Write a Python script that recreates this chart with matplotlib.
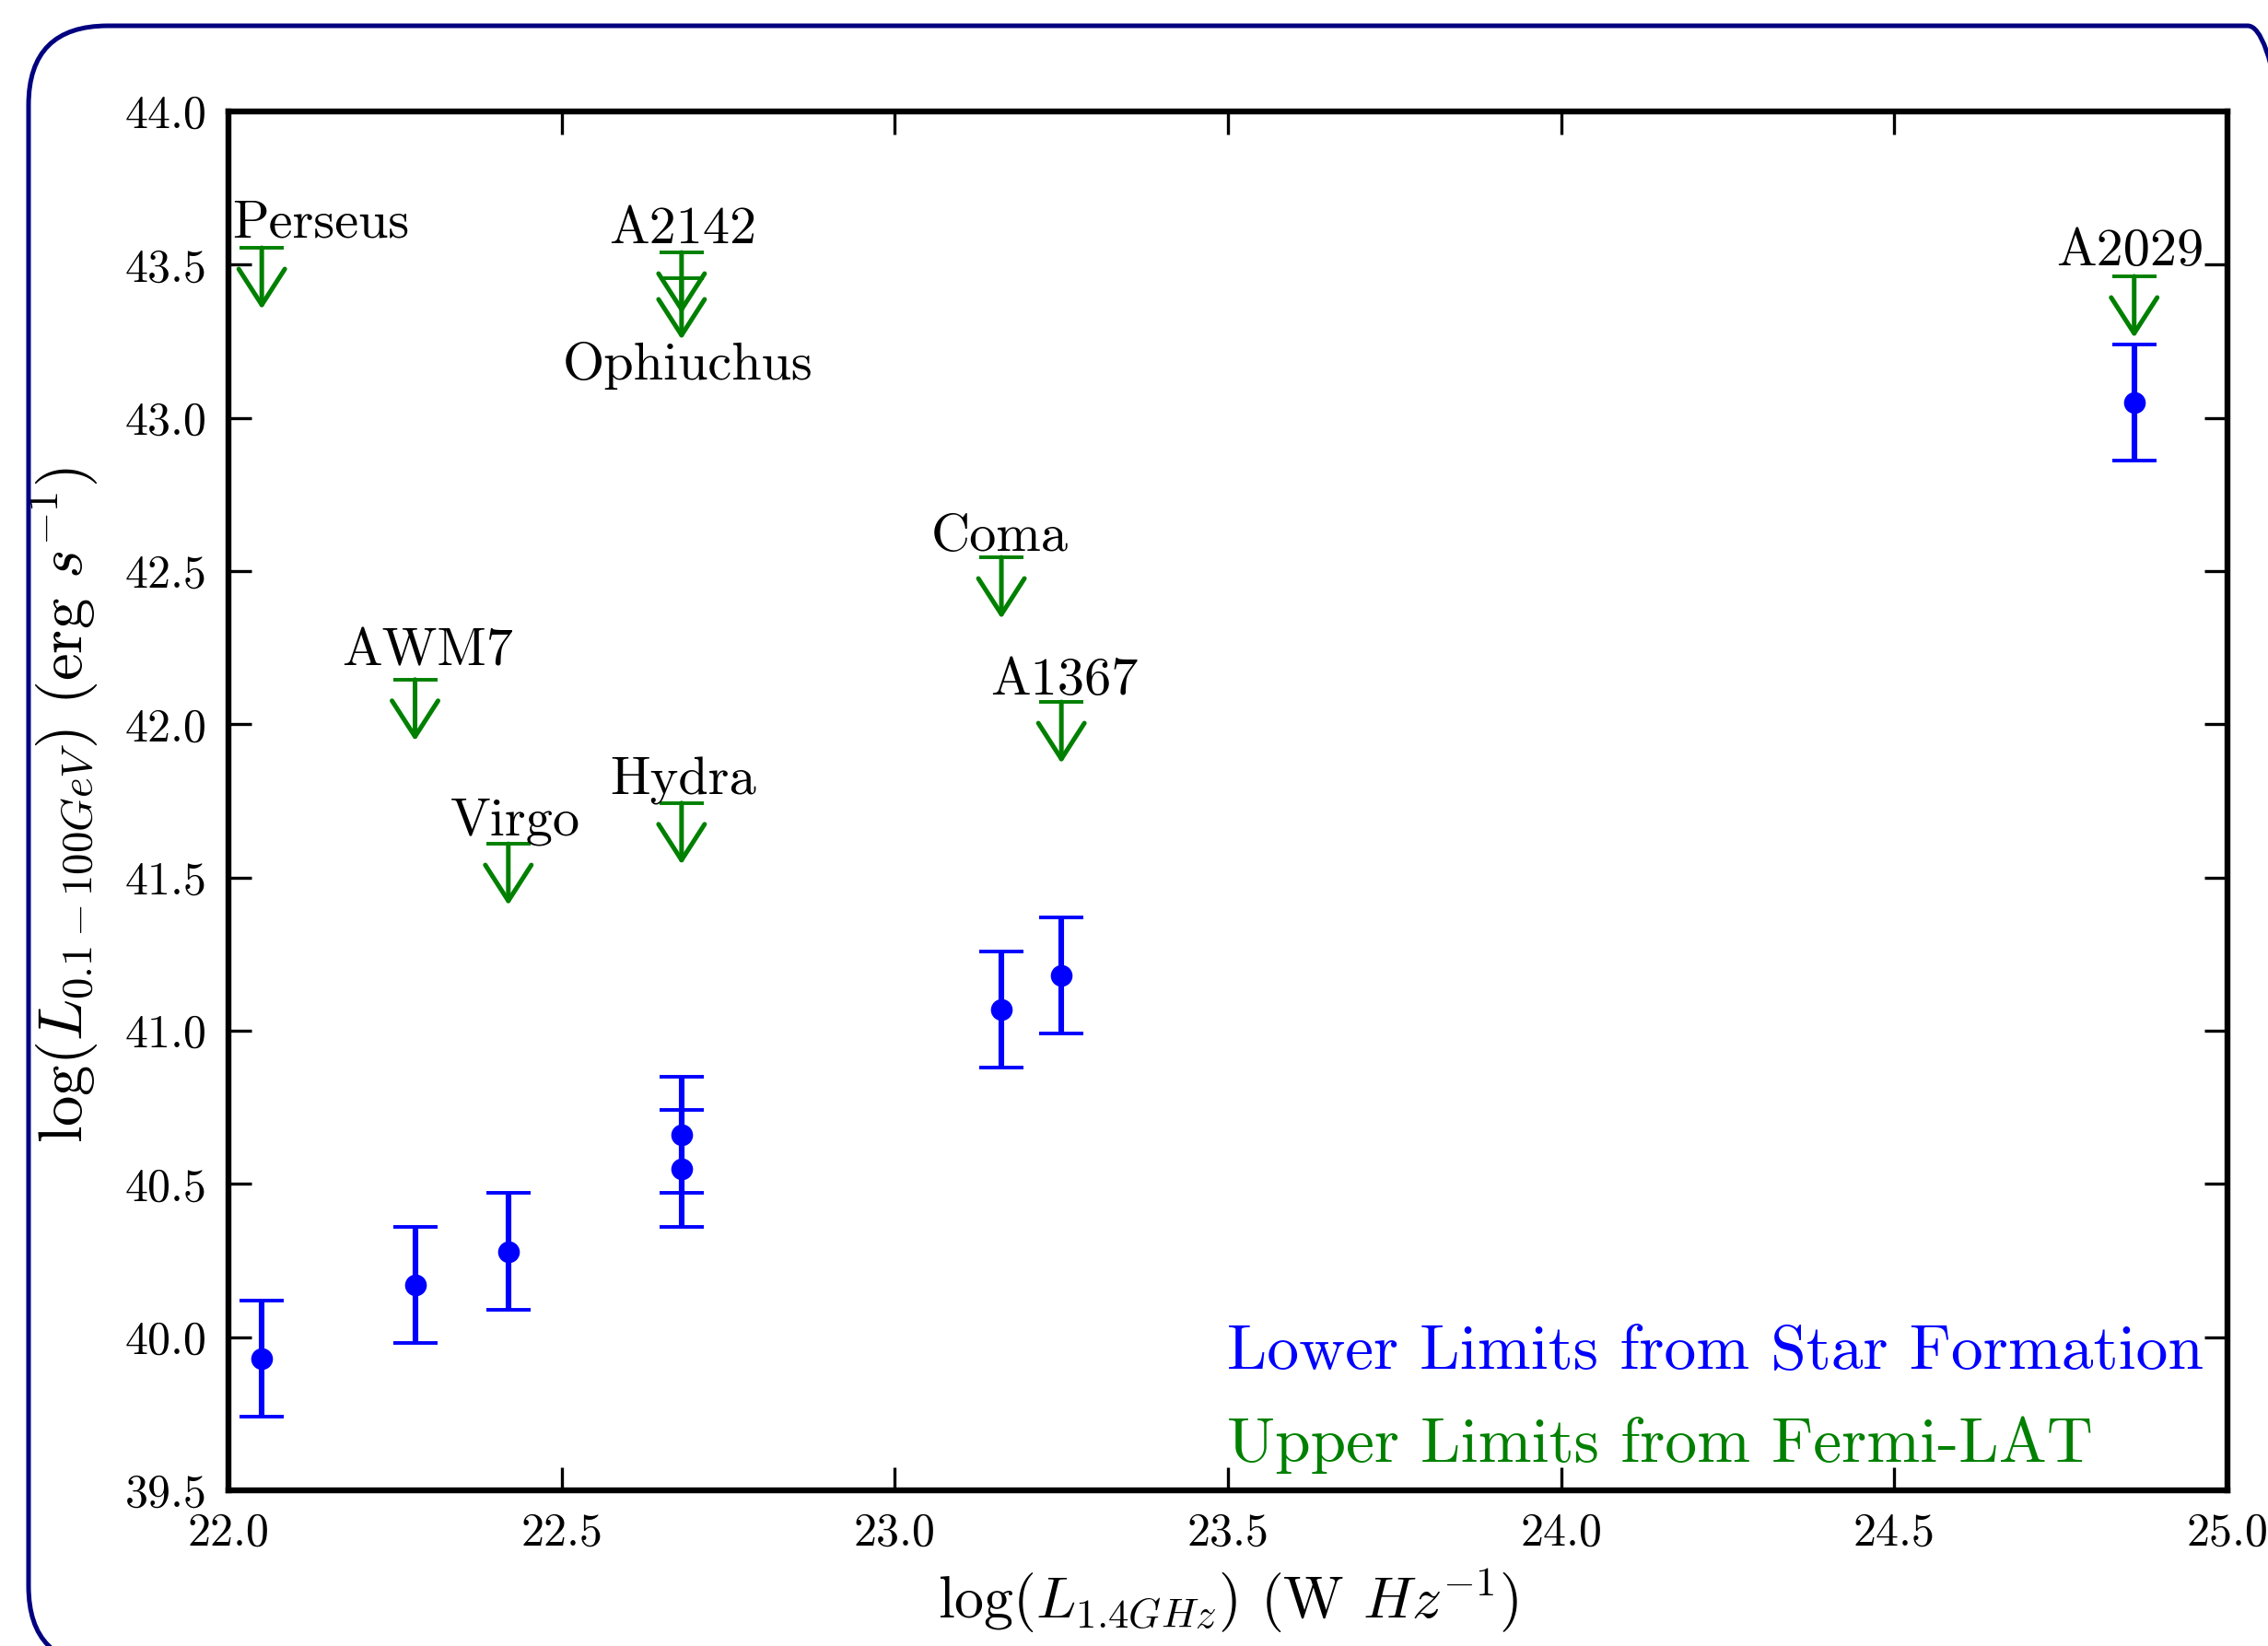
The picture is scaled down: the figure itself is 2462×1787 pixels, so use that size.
import matplotlib
matplotlib.use("Agg")
import matplotlib.pyplot as plt
from matplotlib.patches import FancyBboxPatch
from matplotlib.transforms import IdentityTransform

plt.rcParams['font.family'] = 'serif'
plt.rcParams['font.serif'] = ['cmr10', 'DejaVu Serif']
plt.rcParams['mathtext.fontset'] = 'cm'
plt.rcParams['axes.unicode_minus'] = False
plt.rcParams['axes.formatter.use_mathtext'] = True

# ---- data: lower limits from star formation (blue) ----
sf_x = [22.05, 22.28, 22.42, 22.68, 22.68, 23.16, 23.25, 24.86]
sf_y = [39.93, 40.17, 40.28, 40.66, 40.55, 41.07, 41.18, 43.05]
sf_err = [0.19, 0.19, 0.19, 0.19, 0.19, 0.19, 0.19, 0.19]

# ---- data: upper limits from Fermi-LAT (green) ----
ul_names = ['Perseus', 'A2142', 'Ophiuchus', 'AWM7', 'Virgo', 'Hydra',
            'Coma', 'A1367', 'A2029']
ul_x = [22.05, 22.68, 22.68, 22.28, 22.42, 22.68, 23.16, 23.25, 24.86]
ul_y = [43.555, 43.54, 43.456, 42.146, 41.61, 41.743, 42.545, 42.073, 43.462]
ul_len = 0.2

# label anchor positions (data coordinates, centre/baseline)
lbl_x = [22.138, 22.682, 22.689, 22.299, 22.431, 22.682, 23.157, 23.254, 24.854]
lbl_y = [43.591, 43.570, 43.125, 42.191, 41.638, 41.770, 42.566, 42.097, 43.498]

xticks = [22.0, 22.5, 23.0, 23.5, 24.0, 24.5, 25.0]
yticks = [39.5, 40.0, 40.5, 41.0, 41.5, 42.0, 42.5, 43.0, 43.5, 44.0]

W, H, DPI = 2462, 1787, 200
fig = plt.figure(figsize=(W / DPI, H / DPI), dpi=DPI)
ax = fig.add_axes([248 / W, 1 - 1618 / H, 2170 / W, 1497 / H])

# blue points with error bars
ax.errorbar(sf_x, sf_y, yerr=sf_err, fmt='o', color='b', ms=7.5,
            elinewidth=2.2, capsize=8.6, capthick=1.4, zorder=3)

# green upper limits: cap + downward open arrow
ax.plot(ul_x, ul_y, linestyle='none', marker='_', markersize=17.2,
        mew=1.4, color='g', zorder=3)
for x, y in zip(ul_x, ul_y):
    ax.annotate('', xy=(x, y - ul_len), xytext=(x, y),
                arrowprops=dict(arrowstyle='->,head_length=1.4,head_width=0.9',
                                mutation_scale=10, color='g', lw=1.8,
                                shrinkA=0, shrinkB=0))

for name, x, y in zip(ul_names, lbl_x, lbl_y):
    ax.text(x, y, name, ha='center', va='baseline', fontsize=21, color='k')

ax.text(0.4995, 0.088, 'Lower Limits from Star Formation', color='b',
        fontsize=25, transform=ax.transAxes, ha='left', va='baseline')
ax.text(0.4995, 0.021, 'Upper Limits from Fermi-LAT', color='g',
        fontsize=25, transform=ax.transAxes, ha='left', va='baseline')

ax.set_xlim(22.0, 25.0)
ax.set_ylim(39.5, 44.0)
ax.set_xticks(xticks)
ax.set_yticks(yticks)
ax.set_xticklabels([f'{t:.1f}' for t in xticks])
ax.set_yticklabels([f'{t:.1f}' for t in yticks])
ax.tick_params(direction='in', length=9, width=1.2, top=True, right=True,
               labelsize=18, pad=8.5)
for sp in ax.spines.values():
    sp.set_linewidth(2.3)

ax.set_xlabel(r'$\log(L_{1.4GHz})$ (W $Hz^{-1}$)', fontsize=23)
ax.set_ylabel(r'$\log(L_{0.1-100GeV})$ (erg $s^{-1}$)', fontsize=24)
ax.xaxis.set_label_coords(0.5, -0.055)
ax.yaxis.set_label_coords(-0.064, 0.497)

# rounded navy frame (partly off-page, as in the slide)
frame = FancyBboxPatch((31, H - 1808), 2495, 1780,
                       boxstyle='round,pad=0,rounding_size=86',
                       transform=IdentityTransform(), fill=False,
                       ec='#000080', lw=1.8, clip_on=False)
fig.add_artist(frame)

fig.savefig('out.png', dpi=DPI)
